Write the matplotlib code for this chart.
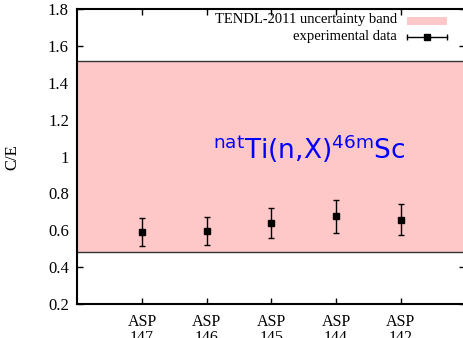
import matplotlib
matplotlib.use("Agg")
import matplotlib.pyplot as plt
import numpy as np

categories = ["ASP\n147", "ASP\n146", "ASP\n145", "ASP\n144", "ASP\n142"]
ce_values = [0.593, 0.598, 0.641, 0.676, 0.658]
ce_errors = [0.076, 0.076, 0.082, 0.088, 0.083]
band_low = 0.48
band_high = 1.52
yticks = [0.2, 0.4, 0.6, 0.8, 1.0, 1.2, 1.4, 1.6, 1.8]
ytick_labels = ["0.2", "0.4", "0.6", "0.8", "1", "1.2", "1.4", "1.6", "1.8"]

plt.rcParams['mathtext.default'] = 'regular'
serif = ['Liberation Serif', 'DejaVu Serif']

fig = plt.figure(figsize=(4.63, 3.38), dpi=100)
ax = fig.add_axes([77.3 / 463, 1 - 304 / 338, (465.5 - 77.3) / 463, (304 - 9.3) / 338])

x = np.arange(1, len(categories) + 1)
ax.set_xlim(0, len(categories) + 1)
ax.set_ylim(0.2, 1.8)

ax.axhspan(band_low, band_high, facecolor='#ffc8c8', edgecolor='none', zorder=1)
ax.axhline(band_low, color='#333333', lw=1.0, zorder=1.5)
ax.axhline(band_high, color='#333333', lw=1.0, zorder=1.5)

ax.errorbar(x, ce_values, yerr=ce_errors, fmt='s', color='black', ms=4.5,
            ecolor='black', elinewidth=1.0, capsize=2.5, capthick=1.0, zorder=3)

ax.set_axisbelow(True)
ax.set_xticks(x)
ax.set_xticklabels(categories, family=serif, fontsize=11.5, linespacing=0.98)
ax.set_yticks(yticks)
ax.set_yticklabels(ytick_labels, family=serif, fontsize=12)
ax.tick_params(direction='in', length=4, width=1.0, top=True, right=True, pad=6)
ax.tick_params(axis='x', pad=7.5)
for s in ax.spines.values():
    s.set_linewidth(1.5)

ax.set_ylabel("C/E", family=serif, fontsize=12, labelpad=20)

ax.text(2.1, 0.985, r"$^{nat}$Ti(n,X)$^{46m}$Sc", color='#0000ff', fontsize=19,
        family='DejaVu Sans', ha='left', va='baseline', zorder=4)

# legend (manual, gnuplot-style keys)
tr = ax.transAxes
def fx(px):
    return (px - 77.3) / (465.5 - 77.3)
def fy(py):
    return 1 - (py - 9.3) / (304 - 9.3)
ax.text(fx(397), fy(20), "TENDL-2011 uncertainty band", transform=tr, ha='right', va='center',
        family=serif, fontsize=10.5, zorder=5)
ax.text(fx(397), fy(36.5), "experimental data", transform=tr, ha='right', va='center',
        family=serif, fontsize=10.5, zorder=5)
ax.add_patch(plt.Rectangle((fx(407), fy(24.5)), fx(447.5) - fx(407), fy(17.3) - fy(24.5),
                           transform=tr, facecolor='#ffc8c8', edgecolor='none', zorder=5))
ax.plot([fx(407), fx(447.5)], [fy(36.7), fy(36.7)], transform=tr, color='black', lw=1.0, zorder=5)
ax.plot([fx(407), fx(447.5)], [fy(36.7), fy(36.7)], transform=tr, color='black', lw=0,
        marker='|', ms=5, zorder=5)
ax.plot([fx(427)], [fy(36.7)], transform=tr, color='black', marker='s', ms=4.5, zorder=5)

fig.savefig("out.png", dpi=100)
